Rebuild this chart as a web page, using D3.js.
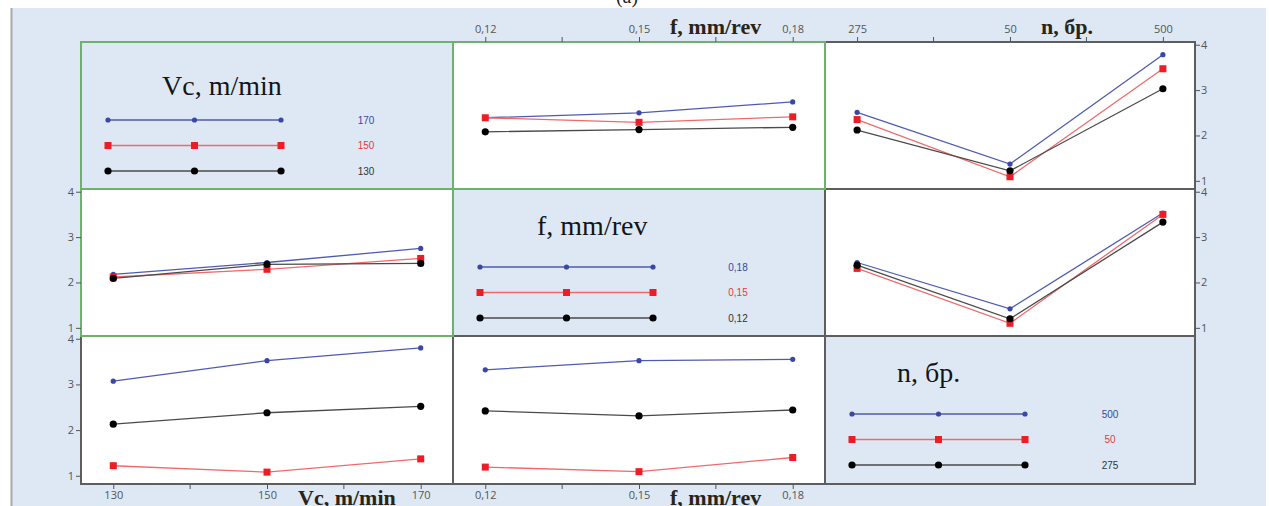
<!DOCTYPE html>
<html><head><meta charset="utf-8">
<script src="https://cdn.jsdelivr.net/npm/d3@7"></script>
<style>html,body{margin:0;padding:0;background:#fff;overflow:hidden}</style>
</head><body><svg id="chart" width="1269" height="506"></svg>
<script>
// ---------- data ----------
const vcLevels = ["130", "150", "170"];
const fLevels = ["0,12", "0,15", "0,18"];
const nLevels = ["275", "50", "500"];
const vcLegend = ["170", "150", "130"];
const fLegend = ["0,18", "0,15", "0,12"];
const nLegend = ["500", "50", "275"];
const yTicks = [1, 2, 3, 4];
const vcTitle = "Vc, m/min";
const fTitle = "f, mm/rev";
const nTitle = "n, бр.";

// row Vc, x = f  (series Vc = 170, 150, 130)
const vcOnF170 = [2.39, 2.50, 2.74];
const vcOnF150 = [2.39, 2.29, 2.41];
const vcOnF130 = [2.08, 2.13, 2.18];
// row Vc, x = n
const vcOnN170 = [2.51, 1.37, 3.78];
const vcOnN150 = [2.35, 1.09, 3.47];
const vcOnN130 = [2.12, 1.22, 3.03];
// row f, x = Vc  (series f = 0,18, 0,15, 0,12)
const fOnVc018 = [2.18, 2.44, 2.75];
const fOnVc015 = [2.12, 2.29, 2.53];
const fOnVc012 = [2.09, 2.40, 2.42];
// row f, x = n
const fOnN018 = [2.44, 1.42, 3.53];
const fOnN015 = [2.31, 1.10, 3.50];
const fOnN012 = [2.38, 1.20, 3.33];
// row n, x = Vc  (series n = 500, 50, 275)
const nOnVc500 = [3.07, 3.52, 3.80];
const nOnVc50 = [1.22, 1.08, 1.37];
const nOnVc275 = [2.13, 2.38, 2.52];
// row n, x = f
const nOnF500 = [3.32, 3.52, 3.55];
const nOnF50 = [1.19, 1.09, 1.40];
const nOnF275 = [2.42, 2.31, 2.44];

// ---------- layout ----------
const W = 1269, H = 506;
const colX = [81, 453, 825, 1195];
const rowY = [42, 189, 336, 484];
const bg = "#dde8f4";
const borderGray = "#5e5e5e";
const borderGreen = "#6fb06f";
const tickColor = "#555";
const titleDx = [81, 84, 72];
const titleDy = [53, 46, 46];

const factors = [
  {title: vcTitle, levels: vcLevels, legend: vcLegend},
  {title: fTitle, levels: fLevels, legend: fLegend},
  {title: nTitle, levels: nLevels, legend: nLegend}
];
const cells = {
  "0-1": [vcOnF170, vcOnF150, vcOnF130],
  "0-2": [vcOnN170, vcOnN150, vcOnN130],
  "1-0": [fOnVc018, fOnVc015, fOnVc012],
  "1-2": [fOnN018, fOnN015, fOnN012],
  "2-0": [nOnVc500, nOnVc50, nOnVc275],
  "2-1": [nOnF500, nOnF50, nOnF275]
};
const styles = [
  {line: "#4f5bb0", fill: "#3a48a4", shape: "circle", r: 2.6, text: "#3b47a0"},
  {line: "#f06a6a", fill: "#ee1c24", shape: "square", s: 7, text: "#e8383d"},
  {line: "#4a4a4a", fill: "#000", shape: "circle", r: 3.6, text: "#333"}
];

const svg = d3.select("#chart");
svg.append("rect").attr("x", 0).attr("y", 0).attr("width", W).attr("height", H).attr("fill", "#fff");
svg.append("rect").attr("x", 12).attr("y", 8).attr("width", 1254).attr("height", H - 8).attr("fill", bg);
svg.append("line").attr("x1", 11.5).attr("x2", 11.5).attr("y1", 8).attr("y2", H)
  .attr("stroke", "#a9a9a9").attr("stroke-width", 2);
svg.append("text").attr("x", 627).attr("y", 3).attr("text-anchor", "middle")
  .attr("font-family", "Liberation Serif, serif").attr("font-size", 20).attr("fill", "#222").text("(a)");

const xScales = factors.map((f, c) => d3.scalePoint().domain(f.levels).range([colX[c], colX[c + 1]]).padding(0.21));
const yScales = factors.map((f, r) => d3.scaleLinear().domain([0.82, 4.06]).range([rowY[r + 1], rowY[r]]));

function marker(g, st, x, y) {
  if (st.shape === "square") {
    g.append("rect").attr("x", x - st.s / 2).attr("y", y - st.s / 2).attr("width", st.s).attr("height", st.s).attr("fill", st.fill);
  } else {
    g.append("circle").attr("cx", x).attr("cy", y).attr("r", st.r).attr("fill", st.fill);
  }
}

// panels
for (let r = 0; r < 3; r++) {
  for (let c = 0; c < 3; c++) {
    const x0 = colX[c], x1 = colX[c + 1], y0 = rowY[r], y1 = rowY[r + 1];
    const g = svg.append("g");
    g.append("rect").attr("x", x0).attr("y", y0).attr("width", x1 - x0).attr("height", y1 - y0)
      .attr("fill", r === c ? bg : "#fff");
    if (r === c) {
      const f = factors[r];
      g.append("text").attr("x", x0 + titleDx[r]).attr("y", y0 + titleDy[r])
        .attr("font-family", "Liberation Serif, Times New Roman, serif").attr("font-size", 28)
        .attr("fill", "#141414").text(f.title);
      const lx = d3.scalePoint().domain([0, 1, 2]).range([x0 + 27, x0 + 200]);
      const ly = [78, 103.5, 129];
      f.legend.forEach((lab, i) => {
        const st = styles[i];
        const yy = y0 + ly[i];
        g.append("line").attr("x1", lx(0)).attr("x2", lx(2)).attr("y1", yy).attr("y2", yy)
          .attr("stroke", st.line).attr("stroke-width", 1.4);
        [0, 1, 2].forEach(k => marker(g, st, lx(k), yy));
        g.append("text").attr("x", x0 + 285).attr("y", yy + 3.5).attr("text-anchor", "middle")
          .attr("font-family", "Liberation Sans, Arial, sans-serif").attr("font-size", 10)
          .attr("fill", st.text).text(lab);
      });
    } else {
      const xs = xScales[c], ys = yScales[r];
      const series = cells[r + "-" + c];
      series.forEach((vals, i) => {
        const st = styles[i];
        const pts = vals.map((v, k) => [xs(factors[c].levels[k]), ys(v)]);
        g.append("path").attr("d", d3.line()(pts)).attr("fill", "none")
          .attr("stroke", st.line).attr("stroke-width", 1.3);
        pts.forEach(p => marker(g, st, p[0], p[1]));
      });
    }
  }
}

// borders
for (let r = 0; r < 3; r++) for (let c = 0; c < 3; c++) {
  svg.append("rect").attr("x", colX[c]).attr("y", rowY[r]).attr("width", colX[c + 1] - colX[c])
    .attr("height", rowY[r + 1] - rowY[r]).attr("fill", "none").attr("stroke", borderGray).attr("stroke-width", 2);
}
[[0, 0], [0, 1], [1, 0]].forEach(([r, c]) => {
  svg.append("rect").attr("x", colX[c]).attr("y", rowY[r]).attr("width", colX[c + 1] - colX[c])
    .attr("height", rowY[r + 1] - rowY[r]).attr("fill", "none").attr("stroke", borderGreen).attr("stroke-width", 2);
});

function styleAxis(g) {
  g.select(".domain").remove();
  g.selectAll(".tick line").attr("stroke", "#555");
  g.selectAll(".tick text").attr("fill", tickColor).attr("font-size", 11)
    .attr("font-family", "Open Sans, Liberation Sans, sans-serif");
}
function minorTicks(c, y, dir) {
  const xs = xScales[c];
  const lv = factors[c].levels;
  for (let k = 0; k < lv.length - 1; k++) {
    const mx = (xs(lv[k]) + xs(lv[k + 1])) / 2;
    svg.append("line").attr("x1", mx).attr("x2", mx).attr("y1", y).attr("y2", y + dir * 5)
      .attr("stroke", "#555");
  }
}
function axisTitle(c, y, text) {
  const xs = xScales[c];
  svg.append("text").attr("x", xs(factors[c].levels[1]) + 31).attr("y", y)
    .attr("font-family", "Liberation Serif, Times New Roman, serif").attr("font-size", 22)
    .attr("font-weight", "bold").attr("fill", "#2a2418").text(text);
}
const yFmt = d3.format("d");

// top axes (row 0, cols 1,2)
[1, 2].forEach(c => {
  svg.append("g").attr("transform", `translate(0,${rowY[0]})`)
    .call(d3.axisTop(xScales[c]).tickSize(5).tickPadding(4)).call(styleAxis);
  minorTicks(c, rowY[0], -1);
  axisTitle(c, 34, factors[c].title);
});
// bottom axes (row 2, cols 0,1)
[0, 1].forEach(c => {
  svg.append("g").attr("transform", `translate(0,${rowY[3]})`)
    .call(d3.axisBottom(xScales[c]).tickSize(5).tickPadding(2)).call(styleAxis);
  minorTicks(c, rowY[3], 1);
  axisTitle(c, 505, factors[c].title);
});
// left axes (col 0, rows 1,2)
[1, 2].forEach(r => {
  svg.append("g").attr("transform", `translate(${colX[0]},0)`)
    .call(d3.axisLeft(yScales[r]).tickValues(yTicks).tickFormat(yFmt).tickSize(5).tickPadding(2)).call(styleAxis);
});
// right axes (col 2, rows 0,1)
[0, 1].forEach(r => {
  svg.append("g").attr("transform", `translate(${colX[3]},0)`)
    .call(d3.axisRight(yScales[r]).tickValues(yTicks).tickFormat(yFmt).tickSize(5).tickPadding(1)).call(styleAxis);
});
</script>
</body></html>
